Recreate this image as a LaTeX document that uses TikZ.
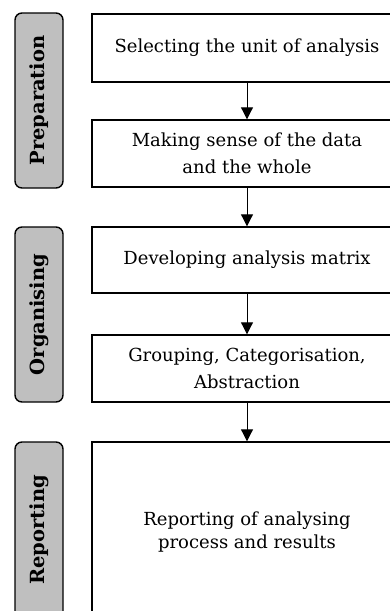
\documentclass[tikz,border=0pt]{standalone}
\usepackage{fontspec}
\setmainfont{DejaVu Serif}
\usetikzlibrary{arrows.meta}
\begin{document}
\begin{tikzpicture}[x=1pt,y=-1pt,
 stepbox/.style={draw=black, line width=1.4pt, minimum width=310pt, align=center, font=\fontsize{18}{27}\selectfont, inner sep=0pt, text=black},
 phase/.style={draw=black, line width=1.4pt, fill=gray!50, rounded corners=7pt, inner sep=0pt, rotate=90, minimum height=48pt, font=\bfseries\fontsize{19.5}{22}\selectfont, text=black},
 flow/.style={-{Triangle[length=12pt,width=12pt]}, line width=1pt, draw=black}]
\useasboundingbox (0,0) rectangle (390,611);
\clip (0,0) rectangle (390,611);
\node[phase, minimum width=175pt] (p1) at (39,100.5) {Preparation};
\node[phase, minimum width=175pt] (p2) at (39,314.5) {Organising};
\node[phase, minimum width=176pt] (p3) at (39,530) {Reporting};
\node[stepbox, minimum height=68pt] (b1) at (247,48) {Selecting the unit of analysis};
\node[stepbox, minimum height=67pt] (b2) at (247,153.5) {Making sense of the data\\and the whole};
\node[stepbox, minimum height=66pt] (b3) at (247,260) {Developing analysis matrix};
\node[stepbox, minimum height=67pt] (b4) at (247,368.5) {Grouping, Categorisation,\\Abstraction};
\node[stepbox, minimum height=180pt, font=\fontsize{18}{23}\selectfont] (b5) at (247,532) {Reporting of analysing\\process and results};
\draw[flow] (b1) -- (b2);
\draw[flow] (b2) -- (b3);
\draw[flow] (b3) -- (b4);
\draw[flow] (b4) -- (b5);
\end{tikzpicture}
\end{document}
